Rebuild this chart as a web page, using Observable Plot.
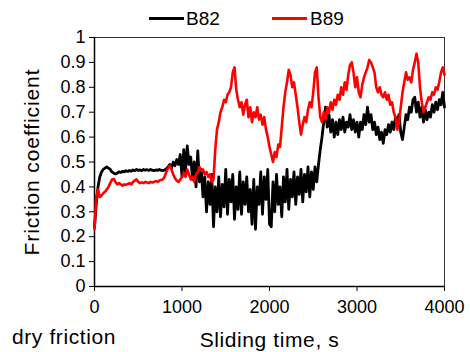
<!DOCTYPE html>
<html>
<head>
<meta charset="utf-8">
<script src="https://cdn.jsdelivr.net/npm/d3@7"></script>
<script src="https://cdn.jsdelivr.net/npm/@observablehq/plot@0.6"></script>
<style>
  html, body { margin: 0; padding: 0; background: white; }
  #wrap { position: relative; width: 470px; height: 352px; font-family: "Liberation Sans", Arial, sans-serif; color: black; }
  #wrap svg g[aria-label="x-axis label"] text { font-size: 21px; letter-spacing: 0.6px; }
  #wrap svg g[aria-label="y-axis label"] text { font-size: 21px; letter-spacing: 0.9px; }
  .abs { position: absolute; white-space: nowrap; }
  .swatch { position: absolute; height: 3px; width: 35px; }
  .legtext { font-size: 19px; line-height: 19px; }
  .caption { font-size: 21px; line-height: 21px; letter-spacing: 0.6px; }
</style>
</head>
<body>
<div id="wrap"></div>
<script>
// sampling step of the readings: every 20 s from 0 to 4000 s
const times = d3.range(0, 4001, 20);

const seriesNames = ["B82", "B89"];
const seriesColors = ["black", "red"];

const b82 = [
  0.24,0.33,0.40,0.44,0.46,0.47,0.475,0.48,0.475,0.47,
  0.46,0.455,0.452,0.455,0.46,0.458,0.462,0.46,0.465,0.462,
  0.466,0.463,0.468,0.465,0.47,0.466,0.468,0.465,0.47,0.467,
  0.469,0.466,0.47,0.467,0.465,0.468,0.466,0.47,0.467,0.465,
  0.468,0.472,0.48,0.49,0.475,0.50,0.485,0.51,0.49,0.53,
  0.44,0.55,0.46,0.565,0.49,0.52,0.43,0.50,0.40,0.545,
  0.42,0.47,0.36,0.44,0.30,0.42,0.33,0.45,0.24,0.40,
  0.30,0.44,0.28,0.41,0.32,0.47,0.29,0.43,0.34,0.45,
  0.27,0.40,0.31,0.46,0.29,0.42,0.33,0.44,0.30,0.39,
  0.25,0.43,0.23,0.40,0.33,0.46,0.29,0.44,0.35,0.47,
  0.25,0.24,0.42,0.30,0.45,0.33,0.40,0.28,0.44,0.34,
  0.47,0.31,0.43,0.36,0.46,0.33,0.44,0.37,0.47,0.34,
  0.45,0.38,0.48,0.36,0.46,0.39,0.48,0.42,0.49,0.55,
  0.60,0.66,0.72,0.64,0.69,0.62,0.67,0.60,0.66,0.61,
  0.67,0.63,0.68,0.62,0.66,0.64,0.69,0.63,0.67,0.62,
  0.66,0.60,0.66,0.63,0.69,0.65,0.72,0.66,0.69,0.63,
  0.66,0.61,0.64,0.59,0.62,0.575,0.63,0.61,0.65,0.62,
  0.66,0.63,0.68,0.66,0.69,0.62,0.59,0.64,0.69,0.67,
  0.72,0.70,0.75,0.76,0.70,0.74,0.68,0.72,0.66,0.71,
  0.67,0.70,0.68,0.73,0.70,0.74,0.71,0.75,0.73,0.78,
  0.72
];

const b89 = [
  0.23,0.36,0.39,0.36,0.365,0.375,0.38,0.39,0.40,0.415,
  0.43,0.432,0.42,0.41,0.415,0.41,0.405,0.41,0.408,0.412,
  0.415,0.41,0.42,0.425,0.43,0.42,0.415,0.418,0.415,0.42,
  0.418,0.415,0.42,0.418,0.42,0.423,0.42,0.425,0.428,0.43,
  0.44,0.46,0.475,0.485,0.47,0.45,0.435,0.425,0.42,0.43,
  0.44,0.455,0.44,0.47,0.45,0.43,0.44,0.42,0.45,0.46,
  0.48,0.465,0.47,0.45,0.46,0.44,0.45,0.42,0.43,0.55,
  0.63,0.66,0.70,0.72,0.75,0.74,0.77,0.78,0.80,0.86,
  0.88,0.79,0.75,0.72,0.74,0.69,0.73,0.75,0.68,0.72,
  0.66,0.70,0.68,0.72,0.67,0.69,0.65,0.68,0.63,0.60,
  0.56,0.53,0.50,0.54,0.52,0.57,0.56,0.64,0.72,0.78,
  0.82,0.87,0.85,0.80,0.82,0.77,0.72,0.66,0.61,0.65,
  0.68,0.66,0.71,0.74,0.72,0.78,0.86,0.88,0.76,0.68,
  0.66,0.70,0.67,0.72,0.70,0.74,0.71,0.75,0.73,0.77,
  0.75,0.80,0.77,0.82,0.79,0.85,0.89,0.90,0.86,0.80,
  0.84,0.78,0.76,0.81,0.84,0.86,0.88,0.91,0.90,0.88,
  0.86,0.80,0.78,0.80,0.77,0.76,0.78,0.75,0.77,0.73,
  0.74,0.70,0.68,0.63,0.66,0.72,0.78,0.82,0.86,0.83,
  0.84,0.82,0.87,0.90,0.935,0.90,0.80,0.74,0.70,0.72,
  0.74,0.76,0.75,0.78,0.77,0.80,0.79,0.82,0.86,0.88,
  0.85
];

const xTicks = [0, 1000, 2000, 3000, 4000];
const yTicks = [0, 0.1, 0.2, 0.3, 0.4, 0.5, 0.6, 0.7, 0.8, 0.9, 1];
const xTitle = "Sliding time, s";
const yTitle = "Friction coefficient";
const caption = "dry friction";

const rowsB82 = times.map((t, i) => ({t, v: b82[i]}));
const rowsB89 = times.map((t, i) => ({t, v: b89[i]}));

const chart = Plot.plot({
  width: 470,
  height: 352,
  marginLeft: 94,
  marginRight: 26,
  marginTop: 37,
  marginBottom: 66,
  style: {fontFamily: "'Liberation Sans', Arial, sans-serif", fontSize: "18px", color: "black", background: "white"},
  x: {domain: [0, 4000]},
  y: {domain: [0, 1]},
  marks: [
    Plot.frame({stroke: "#333", strokeWidth: 1}),
    Plot.axisY(yTicks, {
      tickSize: 5, tickPadding: 4, tickFormat: d3.format("~g"),
      label: yTitle, labelAnchor: "center", labelOffset: 70, labelArrow: "none"
    }),
    Plot.axisX(xTicks, {
      tickSize: 5, tickPadding: 9, tickFormat: d => String(d),
      label: xTitle, labelAnchor: "center", labelOffset: 60, labelArrow: "none"
    }),
    Plot.ruleX([0], {stroke: "black", strokeWidth: 1.5}),
    Plot.ruleY([0], {stroke: "black", strokeWidth: 1.5}),
    Plot.line(rowsB82, {x: "t", y: "v", stroke: seriesColors[0], strokeWidth: 2.8, strokeLinejoin: "round"}),
    Plot.line(rowsB89, {x: "t", y: "v", stroke: seriesColors[1], strokeWidth: 2.6, strokeLinejoin: "round"})
  ]
});

const wrap = document.getElementById("wrap");
wrap.appendChild(chart);

// legend (line swatches) and caption as HTML overlays
const legendPos = [{line: 149, text: 186}, {line: 272, text: 310}];
seriesNames.forEach((name, i) => {
  const sw = document.createElement("div");
  sw.className = "swatch";
  sw.style.left = legendPos[i].line + "px";
  sw.style.top = "17px";
  sw.style.background = seriesColors[i];
  wrap.appendChild(sw);
  const tx = document.createElement("div");
  tx.className = "abs legtext";
  tx.style.left = legendPos[i].text + "px";
  tx.style.top = "9px";
  tx.textContent = name;
  wrap.appendChild(tx);
});
const cap = document.createElement("div");
cap.className = "abs caption";
cap.style.left = "12px";
cap.style.top = "326px";
cap.textContent = caption;
wrap.appendChild(cap);
</script>
</body>
</html>
